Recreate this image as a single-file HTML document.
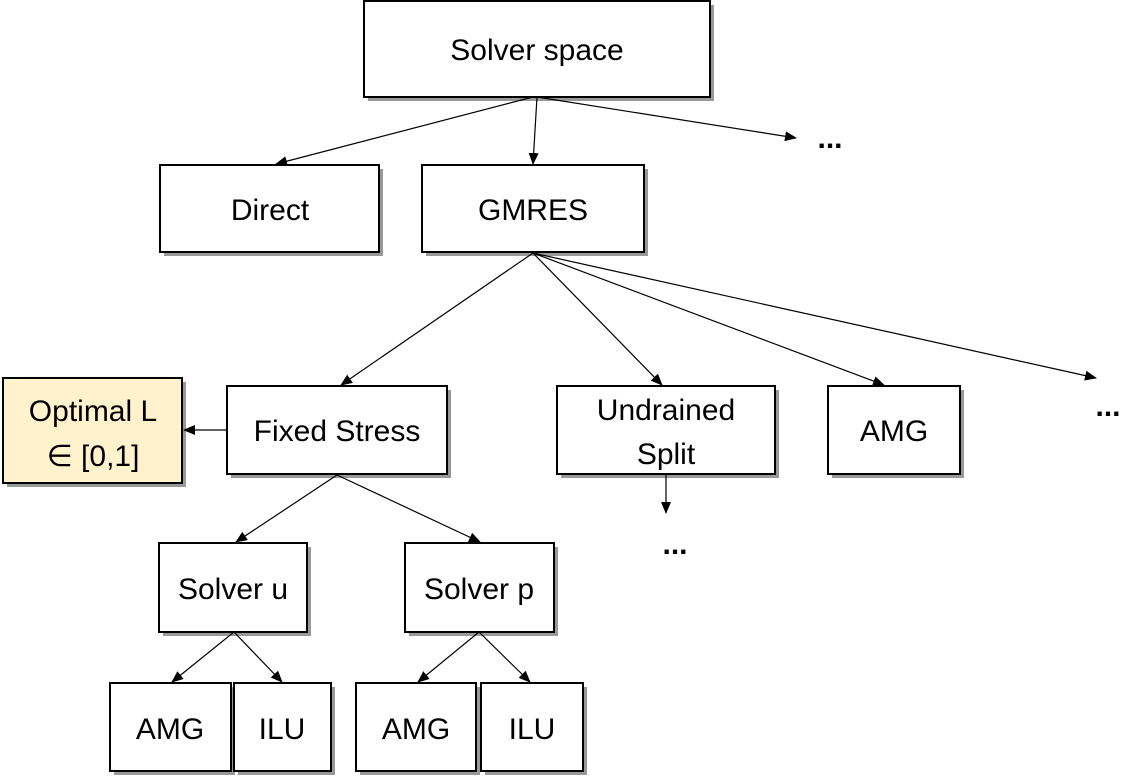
<!DOCTYPE html>
<html><head><style>body{margin:0;background:#fff}</style></head><body>
<svg width="1148" height="779" xmlns="http://www.w3.org/2000/svg" font-family="Liberation Sans, sans-serif" font-size="30">
<defs>
<marker id="a" markerWidth="12" markerHeight="10" refX="11" refY="5" orient="auto" markerUnits="userSpaceOnUse"><path d="M0,0 L12,5 L0,10 z" fill="#000"/></marker>
</defs>
<g fill="#999">
<rect x="368" y="5" width="346" height="96"/>
<rect x="164" y="169" width="219" height="87"/>
<rect x="426" y="169" width="222" height="87"/>
<rect x="7" y="382" width="179" height="105"/>
<rect x="231" y="390" width="220" height="88"/>
<rect x="561" y="390" width="218" height="88"/>
<rect x="832" y="390" width="132" height="88"/>
<rect x="163" y="547" width="148" height="89"/>
<rect x="409" y="547" width="149" height="89"/>
<rect x="114" y="687" width="121" height="88"/>
<rect x="238" y="687" width="97" height="88"/>
<rect x="360" y="687" width="120" height="88"/>
<rect x="485" y="687" width="102" height="88"/>
</g>
<g stroke="#000" stroke-width="2" fill="#fff">
<rect x="364" y="1" width="346" height="96"/>
<rect x="160" y="165" width="219" height="87"/>
<rect x="422" y="165" width="222" height="87"/>
<rect x="3" y="378" width="179" height="105" fill="#fff2cc"/>
<rect x="227" y="386" width="220" height="88"/>
<rect x="557" y="386" width="218" height="88"/>
<rect x="828" y="386" width="132" height="88"/>
<rect x="159" y="543" width="148" height="89"/>
<rect x="405" y="543" width="149" height="89"/>
<rect x="110" y="683" width="121" height="88"/>
<rect x="234" y="683" width="97" height="88"/>
<rect x="356" y="683" width="120" height="88"/>
<rect x="481" y="683" width="102" height="88"/>
</g>
<g stroke="#000" stroke-width="1.2" marker-end="url(#a)">
<line x1="533" y1="97" x2="276" y2="164"/>
<line x1="537" y1="97" x2="533" y2="164"/>
<line x1="537" y1="97" x2="796" y2="138"/>
<line x1="533" y1="253" x2="341" y2="385"/>
<line x1="533" y1="253" x2="662" y2="385"/>
<line x1="533" y1="253" x2="884" y2="385"/>
<line x1="533" y1="253" x2="1096" y2="378"/>
<line x1="227" y1="430" x2="184" y2="430"/>
<line x1="666" y1="475" x2="666" y2="513"/>
<line x1="337" y1="475" x2="236" y2="542"/>
<line x1="337" y1="475" x2="480" y2="542"/>
<line x1="234" y1="632" x2="172" y2="682"/>
<line x1="234" y1="632" x2="282" y2="682"/>
<line x1="479" y1="632" x2="418" y2="682"/>
<line x1="479" y1="632" x2="530" y2="682"/>
</g>
<g text-anchor="middle" fill="#000">
<text x="537" y="60">Solver space</text>
<text x="270" y="220">Direct</text>
<text x="533" y="220">GMRES</text>
<text x="93" y="421">Optimal L</text>
<text x="93" y="466">∈ [0,1]</text>
<text x="337" y="441">Fixed Stress</text>
<text x="666" y="420">Undrained</text>
<text x="666" y="464">Split</text>
<text x="894" y="441">AMG</text>
<text x="233" y="599">Solver u</text>
<text x="479" y="599">Solver p</text>
<text x="170" y="739">AMG</text>
<text x="282" y="739">ILU</text>
<text x="416" y="739">AMG</text>
<text x="532" y="739">ILU</text>
<text x="830" y="148" font-weight="bold">...</text>
<text x="1108" y="416" font-weight="bold">...</text>
<text x="675" y="554" font-weight="bold">...</text>
</g>
</svg>
</body></html>
